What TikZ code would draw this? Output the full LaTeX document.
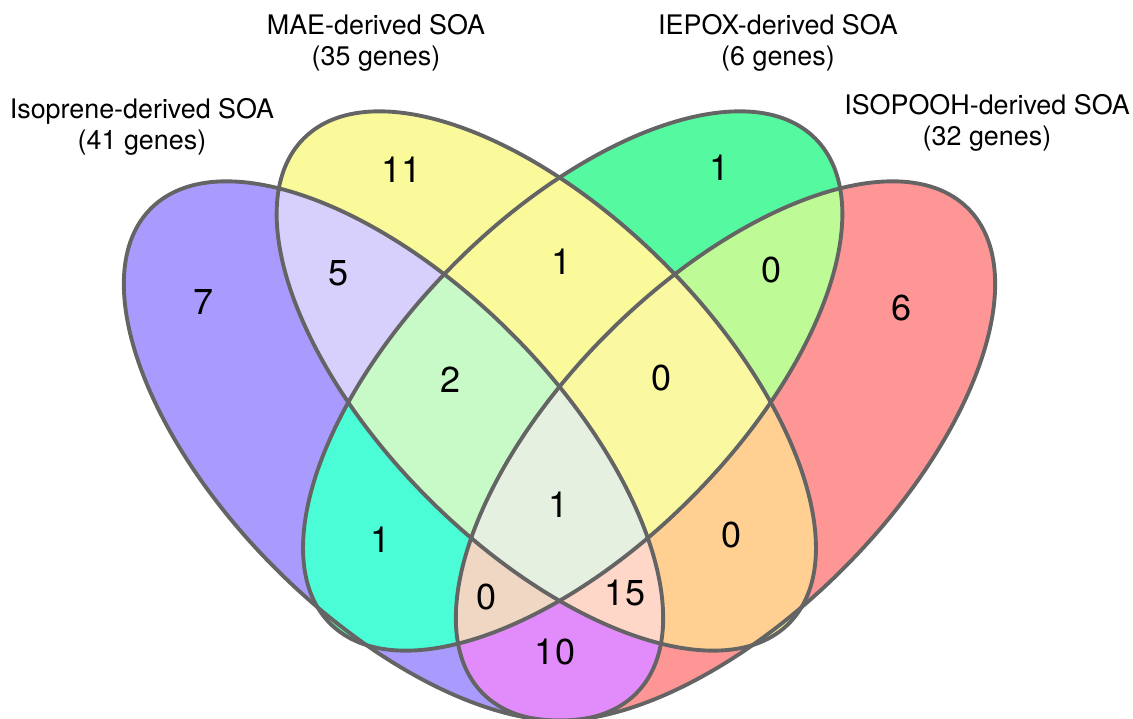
\documentclass[tikz,border=0pt]{standalone}
\usepackage{fontspec}
\setmainfont{TeX Gyre Heros}
\usetikzlibrary{positioning}

\definecolor{edge}{RGB}{100,100,100}
\definecolor{fIso}{RGB}{169,155,253}
\definecolor{fMae}{RGB}{250,250,155}
\definecolor{fEpx}{RGB}{85,250,160}
\definecolor{fPooh}{RGB}{255,150,150}
\definecolor{fIsoMae}{RGB}{215,208,252}
\definecolor{fIsoEpx}{RGB}{75,253,215}
\definecolor{fIsoPooh}{RGB}{225,140,250}
\definecolor{fMaeEpx}{RGB}{250,250,155}
\definecolor{fMaePooh}{RGB}{255,208,145}
\definecolor{fEpxPooh}{RGB}{190,250,150}
\definecolor{fIsoMaeEpx}{RGB}{200,250,200}
\definecolor{fIsoMaePooh}{RGB}{255,215,200}
\definecolor{fIsoEpxPooh}{RGB}{240,215,195}
\definecolor{fMaeEpxPooh}{RGB}{250,248,160}
\definecolor{fAll}{RGB}{230,240,225}

% the four sets
\newcommand{\setIso}{(-3.32,-1.02) circle[x radius=6.86, y radius=3.33, rotate=-45]}
\newcommand{\setMae}{(-0.264,0.38) circle[x radius=6.86, y radius=3.33, rotate=-45]}
\newcommand{\setEpx}{(0.264,0.38) circle[x radius=6.86, y radius=3.33, rotate=45]}
\newcommand{\setPooh}{(3.32,-1.02) circle[x radius=6.86, y radius=3.33, rotate=45]}

\tikzset{
  outline/.style={draw=edge, line width=2.2pt},
  count/.style={font=\fontsize{20.5}{24}\selectfont},
  setname/.style={align=center, font=\fontsize{15.3}{17.6}\selectfont},
}

\begin{document}
\begin{tikzpicture}
    \useasboundingbox (-11.19,-6.38) rectangle (11.47,8.0);

    % Single sets
    \fill[fIso] \setIso;
    \fill[fMae] \setMae;
    \fill[fEpx] \setEpx;
    \fill[fPooh] \setPooh;

    % Pairs
    \begin{scope} \clip \setIso; \fill[fIsoMae] \setMae; \end{scope}
    \begin{scope} \clip \setIso; \fill[fIsoEpx] \setEpx; \end{scope}
    \begin{scope} \clip \setIso; \fill[fIsoPooh] \setPooh; \end{scope}
    \begin{scope} \clip \setMae; \fill[fMaeEpx] \setEpx; \end{scope}
    \begin{scope} \clip \setMae; \fill[fMaePooh] \setPooh; \end{scope}
    \begin{scope} \clip \setEpx; \fill[fEpxPooh] \setPooh; \end{scope}

    % Triples
    \begin{scope} \clip \setIso; \clip \setMae; \fill[fIsoMaeEpx] \setEpx; \end{scope}
    \begin{scope} \clip \setIso; \clip \setMae; \fill[fIsoMaePooh] \setPooh; \end{scope}
    \begin{scope} \clip \setIso; \clip \setEpx; \fill[fIsoEpxPooh] \setPooh; \end{scope}
    \begin{scope} \clip \setMae; \clip \setEpx; \fill[fMaeEpxPooh] \setPooh; \end{scope}

    % All four
    \begin{scope} \clip \setIso; \clip \setMae; \clip \setEpx; \fill[fAll] \setPooh; \end{scope}

    % Outlines
    \draw[outline] \setIso;
    \draw[outline] \setMae;
    \draw[outline] \setEpx;
    \draw[outline] \setPooh;

    % Counts
    \node[count] (iso) at (-7.11,1.96) {7};
    \node[count] (mae) at (-3.15,4.60) {11};
    \node[count] (epx) at (3.21,4.64) {1};
    \node[count] (pooh) at (6.85,1.84) {6};
    \node[count] (isoMae) at (-4.41,2.54) {5};
    \node[count] (maeEpx) at (0.05,2.76) {1};
    \node[count] (epxPooh) at (4.25,2.60) {0};
    \node[count] (isoMaeEpx) at (-2.17,0.40) {2};
    \node[count] (maeEpxPooh) at (2.05,0.44) {0};
    \node[count] (all) at (-0.01,-2.10) {1};
    \node[count] (isoEpx) at (-3.57,-2.80) {1};
    \node[count] (maePooh) at (3.45,-2.70) {0};
    \node[count] (isoEpxPooh) at (-1.45,-3.94) {0};
    \node[count] (isoMaePooh) at (1.31,-3.86) {15};
    \node[count] (isoPooh) at (-0.09,-5.04) {10};

    % Set names
    \node[setname] (isoName) at (-8.35,5.46) {Isoprene-derived SOA\\(41 genes)};
    \node[setname] (maeName) at (-3.67,7.15) {MAE-derived SOA\\(35 genes)};
    \node[setname] (epxName) at (4.37,7.15) {IEPOX-derived SOA\\(6 genes)};
    \node[setname] (poohName) at (8.55,5.54) {ISOPOOH-derived SOA\\(32 genes)};
\end{tikzpicture}
\end{document}
